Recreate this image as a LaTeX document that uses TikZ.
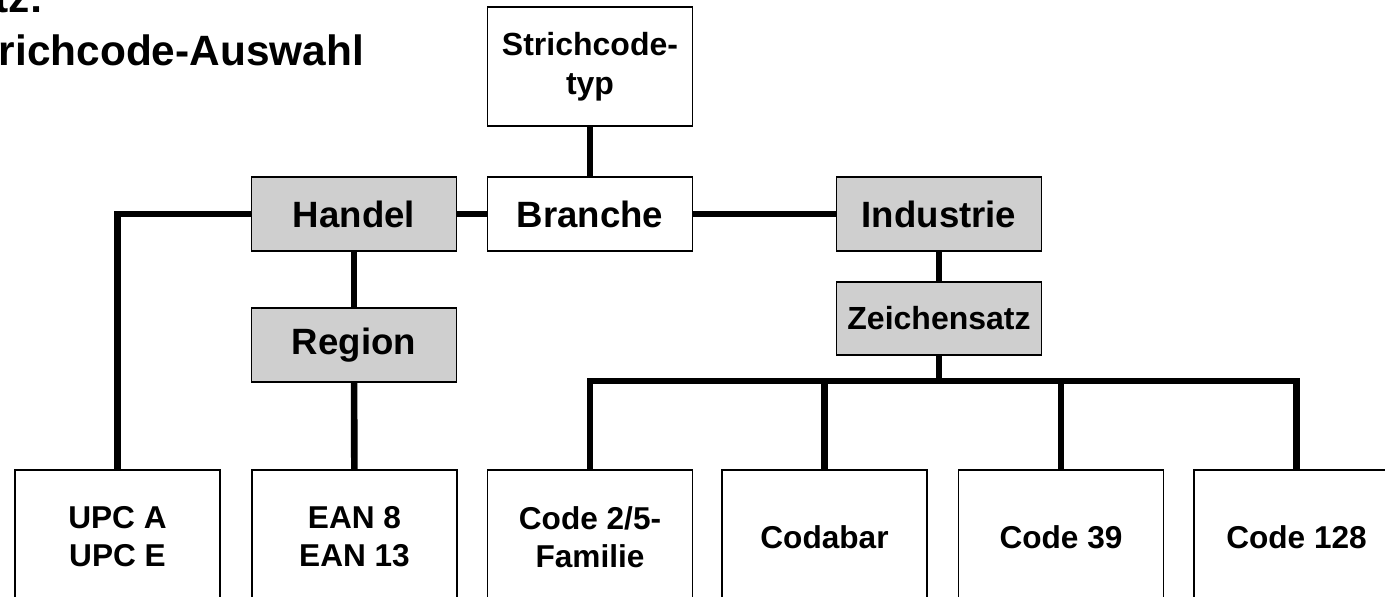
\documentclass[tikz,border=0pt]{standalone}
\usepackage{fontspec}
\setmainfont{Liberation Sans}
\usepackage{xcolor}
\usepackage{tikz}
\definecolor{boxgray}{HTML}{CFCFCF}

\tikzset{
    box/.style={draw, line width=0.9pt, minimum width=102.5pt, minimum height=37pt, inner sep=0pt, align=center, font=\bfseries\fontsize{18.3}{22}\selectfont},
    graybox/.style={box, fill=boxgray},
    smalltext/.style={font=\bfseries\fontsize{16}{19.5}\selectfont},
    leafbox/.style={box, minimum height=67pt, font=\bfseries\fontsize{15.8}{19}\selectfont},
    heading/.style={inner sep=0pt, font=\bfseries\fontsize{21.2}{26.5}\selectfont},
    conn/.style={line width=3.3pt},
}

\begin{document}
\begin{tikzpicture}[x=0.5pt, y=-0.5pt]
    \useasboundingbox (0,0) rectangle (1385,596);
    \clip (0,0) rectangle (1385,596);

    % ── HEADING (cut at the left edge) ─────────────────────────────
    \node[heading, anchor=base east] (headA) at (44,12) {Ansatz:};
    \node[heading, anchor=base west] (headB) at (-44,65) {Strichcode-Auswahl};

    % ── UPPER LEVELS ───────────────────────────────────────────────
    \node[box, smalltext, minimum height=59.5pt] (typ) at (590,66.5) {Strichcode-\\typ};
    \node[box] (branche) at (590,214) {Branche};
    \node[graybox] (handel) at (354,214) {Handel};
    \node[graybox] (industrie) at (939,214) {Industrie};
    \node[graybox] (region) at (354,345) {Region};
    \node[graybox, smalltext, minimum height=36.5pt] (zeichen) at (939,318.5) {Zeichensatz};

    % ── BAR CODES ──────────────────────────────────────────────────
    \node[leafbox] (upc) at (117.5,537) {UPC A\\UPC E};
    \node[leafbox] (ean) at (354.5,537) {EAN 8\\EAN 13};
    \node[leafbox] (code25) at (590,537) {Code 2/5-\\Familie};
    \node[leafbox] (codabar) at (824.5,537) {Codabar};
    \node[leafbox] (code39) at (1061,537) {Code 39};
    \node[leafbox] (code128) at (1296.5,537) {Code 128};

    % Connectors
    \coordinate (bus) at (0,381);
    \draw[conn] (typ.south) -- (typ.south |- branche.north);
    \draw[conn] (handel) -- (branche);
    \draw[conn] (branche) -- (industrie);
    \draw[conn] (handel) -- (region);
    \draw[conn] (industrie) -- (zeichen);
    \draw[conn] (handel.west) -| (upc.north);
    \draw[conn] (region) -- (ean);
    \draw[conn] (zeichen) -- (zeichen |- bus);
    \draw[conn] (code25.north) |- (code128.north |- bus) -- (code128.north);
    \draw[conn] (codabar.north) -- (codabar.north |- bus);
    \draw[conn] (code39.north) -- (code39.north |- bus);
\end{tikzpicture}
\end{document}
